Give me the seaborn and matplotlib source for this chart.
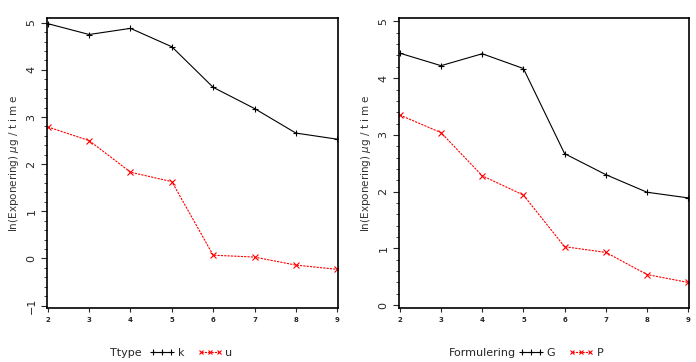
import pandas as pd
import matplotlib
matplotlib.use("Agg")
import matplotlib.pyplot as plt
from matplotlib.ticker import AutoMinorLocator
from matplotlib.lines import Line2D
import seaborn as sns

x = [2, 3, 4, 5, 6, 7, 8, 9]

# left panel: Ttype
ttype_k = [4.98, 4.75, 4.88, 4.49, 3.63, 3.18, 2.66, 2.53]
ttype_u = [2.79, 2.50, 1.83, 1.63, 0.07, 0.03, -0.14, -0.23]

# right panel: Formulering
form_g = [4.44, 4.22, 4.43, 4.17, 2.67, 2.30, 1.99, 1.89]
form_p = [3.35, 3.04, 2.28, 1.94, 1.03, 0.93, 0.54, 0.40]

ylabel = "ln(Exponering) $\\mu$g / t i m e"

left = pd.DataFrame({"x": x * 2, "y": ttype_k + ttype_u,
                     "grp": ["k"] * 8 + ["u"] * 8})
right = pd.DataFrame({"x": x * 2, "y": form_g + form_p,
                      "grp": ["G"] * 8 + ["P"] * 8})

sns.set_style("white")
plt.rcParams['font.family'] = ['DejaVu Sans']

fig = plt.figure(figsize=(6.96, 3.62), dpi=100)
W, H = 696, 362
ax1 = fig.add_axes([47 / W, 1 - 308 / H, 291 / W, 290 / H])
ax2 = fig.add_axes([399 / W, 1 - 308 / H, 290 / W, 290 / H])


def draw(ax, df, names, ylim, yticks, title, title_x, legend_x):
    sns.lineplot(data=df, x="x", y="y", hue="grp", style="grp",
                 palette={names[0]: "black", names[1]: "red"},
                 markers={names[0]: "+", names[1]: "x"},
                 dashes={names[0]: "", names[1]: (2, 1)},
                 linewidth=0.8, markersize=4.5,
                 legend=False, ax=ax)
    # make the unfilled markers visible in the line colour
    for ln in ax.get_lines():
        ln.set_markeredgecolor(ln.get_color())
        ln.set_markeredgewidth(0.8)
    ax.set_xlim(1.98, 9.02)
    ax.set_ylim(*ylim)
    ax.set_xticks(x)
    ax.set_xticklabels([str(v) for v in x], fontsize=5, fontweight="bold")
    ax.set_yticks(yticks)
    ax.set_yticklabels([str(v).replace("-", "\u2212") for v in yticks],
                       fontsize=8, rotation=90, va="center")
    ax.yaxis.set_minor_locator(AutoMinorLocator(5))
    ax.tick_params(axis="y", which="major", length=4, width=0.8, left=True)
    ax.tick_params(axis="y", which="minor", length=2, width=0.6, left=True)
    ax.tick_params(axis="x", which="major", length=3, width=0.8, bottom=True)
    ax.set_xlabel("")
    ax.set_ylabel(ylabel, fontsize=7.5, color="#333333")
    for s in ax.spines.values():
        s.set_linewidth(1.2)
        s.set_color("black")
    # legend along the bottom
    fig.text(title_x / W, 1 - 353 / H, title, fontsize=8, va="center")
    handles = [Line2D([], [], color="black", marker="+", lw=0.8, markersize=4,
                      mec="black", mew=0.8),
               Line2D([], [], color="red", marker="x", lw=0.8, ls=(0, (2, 1)),
                      markersize=3.5, mec="red", mew=0.8)]
    fig.legend(handles, names, loc="center left", ncol=2, frameon=False,
               bbox_to_anchor=(legend_x / W, 1 - 353 / H), fontsize=8,
               numpoints=3, handlelength=2.2, handletextpad=0.3,
               columnspacing=1.2, borderpad=0, borderaxespad=0)


draw(ax1, left, ["k", "u"], (-1.05, 5.1), [-1, 0, 1, 2, 3, 4, 5],
     "Ttype", 110, 150)
draw(ax2, right, ["G", "P"], (-0.05, 5.06), [0, 1, 2, 3, 4, 5],
     "Formulering", 449, 519)

fig.savefig("out.png", dpi=100)
